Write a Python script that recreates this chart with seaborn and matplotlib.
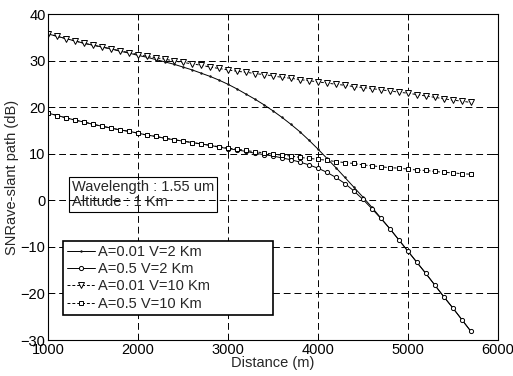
import numpy as np
import pandas as pd
import seaborn as sns
import matplotlib
import matplotlib.pyplot as plt

matplotlib.use('Agg')

# distance in metres, one point every 100 m
distance = [1000, 1100, 1200, 1300, 1400, 1500, 1600, 1700, 1800, 1900,
            2000, 2100, 2200, 2300, 2400, 2500, 2600, 2700, 2800, 2900,
            3000, 3100, 3200, 3300, 3400, 3500, 3600, 3700, 3800, 3900,
            4000, 4100, 4200, 4300, 4400, 4500, 4600, 4700, 4800, 4900,
            5000, 5100, 5200, 5300, 5400, 5500, 5600, 5700]

snr_a001_v2 = [35.7, 35.2, 34.7, 34.2, 33.7, 33.3, 32.9, 32.5, 32.0, 31.6,
               31.1, 30.7, 30.2, 29.7, 29.2, 28.6, 28.0, 27.3, 26.6, 25.8,
               24.9, 23.9, 22.8, 21.7, 20.5, 19.2, 17.8, 16.3, 14.7, 12.9,
               11.0, 9.0, 7.0, 4.9, 2.8, 0.7, -1.5, -3.8, -6.1, -8.5,
               -10.9, -13.3, -15.7, -18.2, -20.7, -23.1, -25.6, -28.1]

snr_a05_v2 = [18.7, 18.2, 17.7, 17.2, 16.8, 16.3, 15.9, 15.5, 15.1, 14.8,
              14.4, 14.0, 13.7, 13.3, 13.0, 12.7, 12.4, 12.1, 11.8, 11.4,
              11.1, 10.8, 10.5, 10.1, 9.8, 9.5, 9.1, 8.7, 8.2, 7.6,
              6.9, 6.0, 4.9, 3.6, 2.0, 0.2, -1.8, -3.9, -6.1, -8.5,
              -10.9, -13.3, -15.7, -18.2, -20.7, -23.1, -25.6, -28.1]

snr_a001_v10 = [35.7, 35.2, 34.7, 34.2, 33.7, 33.3, 32.9, 32.5, 32.1, 31.7,
                31.3, 30.9, 30.6, 30.3, 29.9, 29.6, 29.3, 29.0, 28.6, 28.3,
                28.0, 27.7, 27.5, 27.2, 27.0, 26.7, 26.4, 26.2, 25.9, 25.7,
                25.4, 25.2, 24.9, 24.7, 24.4, 24.2, 24.0, 23.7, 23.5, 23.2,
                23.0, 22.7, 22.4, 22.1, 21.8, 21.5, 21.3, 21.0]

snr_a05_v10 = [18.7, 18.2, 17.7, 17.2, 16.8, 16.3, 15.9, 15.5, 15.1, 14.8,
               14.4, 14.0, 13.7, 13.3, 13.0, 12.7, 12.4, 12.1, 11.8, 11.5,
               11.2, 11.0, 10.7, 10.4, 10.2, 9.9, 9.7, 9.5, 9.2, 9.0,
               8.8, 8.6, 8.3, 8.1, 7.9, 7.6, 7.4, 7.2, 7.0, 6.9,
               6.7, 6.5, 6.4, 6.2, 6.0, 5.9, 5.7, 5.6]

labels = ["A=0.01 V=2 Km", "A=0.5 V=2 Km", "A=0.01 V=10 Km", "A=0.5 V=10 Km"]
xticks = [1000, 2000, 3000, 4000, 5000, 6000]
yticks = [-30, -20, -10, 0, 10, 20, 30, 40]

sns.set_style("ticks")
plt.rcParams['font.family'] = ['Liberation Sans', 'DejaVu Sans']
plt.rcParams['font.size'] = 10.5

fig = plt.figure(figsize=(5.13, 3.76), dpi=100)
ax = fig.add_axes([48.3 / 513, 36 / 376, 449.4 / 513, 326 / 376])

series = [snr_a001_v2, snr_a05_v2, snr_a001_v10, snr_a05_v10]
styles = [
    dict(marker='.', markersize=2, linestyle='-'),
    dict(marker='o', markersize=3, linestyle='-'),
    dict(marker='v', markersize=4.5, linestyle=(0, (3, 2))),
    dict(marker='s', markersize=3.5, linestyle=(0, (3, 2))),
]

for vals, lab, st in zip(series, labels, styles):
    df = pd.DataFrame({"distance": distance, "snr": vals})
    sns.lineplot(data=df, x="distance", y="snr", ax=ax, color='black',
                 linewidth=0.7, markerfacecolor='white',
                 markeredgecolor='black', markeredgewidth=0.7,
                 label=lab, **st)

ax.set_xlim(1000, 6000)
ax.set_ylim(-30, 40)
ax.set_xticks(xticks)
ax.set_yticks(yticks)
ax.grid(True, color='black', linestyle=(0, (7, 4)), linewidth=0.7)
ax.tick_params(direction='in', length=4, width=0.7, top=True, right=True,
               pad=2, labelsize=10.5, colors='black')
for sp in ax.spines.values():
    sp.set_color('black')
    sp.set_linewidth(0.8)

ax.set_xlabel("Distance (m)", fontsize=10.5)
ax.set_ylabel("SNRave-slant path (dB)", fontsize=10.5)
ax.xaxis.set_label_coords(0.5, -0.05)
ax.yaxis.set_label_coords(-0.066, 0.5)

ax.text(0.052, 0.49, "Wavelength : 1.55 um\nAltitude : 1 Km",
        transform=ax.transAxes, ha='left', va='top', fontsize=10.5,
        linespacing=1.05,
        bbox=dict(boxstyle='square,pad=0.2', fc='none', ec='black', lw=0.8))

leg = ax.legend(loc='upper left', bbox_to_anchor=(0.032, 0.0837, 0.468, 0.221),
                mode='expand', borderaxespad=0, fancybox=False, framealpha=1,
                edgecolor='black', handlelength=1.9, handletextpad=0.2,
                labelspacing=0.22, borderpad=0.3, numpoints=1, fontsize=10.5)
leg.get_frame().set_linewidth(1.2)

fig.savefig("out.png", dpi=100)
